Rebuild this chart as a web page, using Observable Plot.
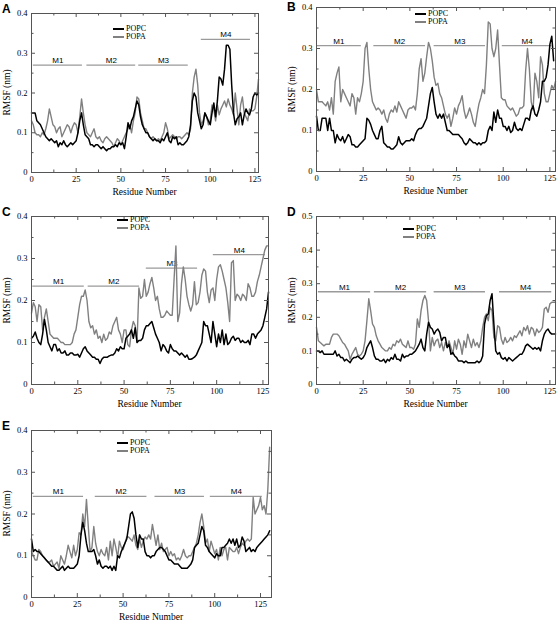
<!DOCTYPE html>
<html><head><meta charset="utf-8">
<script src="https://cdn.jsdelivr.net/npm/d3@7"></script>
<script src="https://cdn.jsdelivr.net/npm/@observablehq/plot@0.6"></script>
<style>
body{margin:0;background:#fff;}
#root{position:relative;width:558px;height:624px;overflow:hidden;font-family:"Liberation Serif","Times New Roman",serif;color:#000;}
#root > *{position:absolute;}
.letter{font-family:"Liberation Sans",Arial,sans-serif;font-weight:bold;font-size:12px;line-height:12px;}
.ytitle{font-family:"Liberation Serif","Times New Roman",serif;font-weight:normal;width:100px;text-align:center;font-size:9.5px;line-height:11px;transform:rotate(-90deg);white-space:nowrap;}
.xtitle{font-family:"Liberation Serif","Times New Roman",serif;font-weight:normal;width:200px;text-align:center;font-size:9.5px;line-height:11px;white-space:nowrap;}
.legline{height:1.6px;width:11px;}
.legtext{font-family:"Liberation Serif","Times New Roman",serif;font-size:8px;line-height:8px;white-space:nowrap;}
</style></head><body><div id="root"></div><script>
// ---------- data ----------
const seriesNames = ["POPC", "POPA"];
const segLabels = ["M1", "M2", "M3", "M4"];
const xTicks = [0, 25, 50, 75, 100, 125];
const yTicks04 = [0, 0.1, 0.2, 0.3, 0.4];
const yTicks05 = [0, 0.1, 0.2, 0.3, 0.4, 0.5];

const aPOPC = [0.15,0.15,0.15,0.13,0.125,0.12,0.11,0.10,0.09,0.085,
0.08,0.085,0.08,0.075,0.08,0.065,0.075,0.07,0.08,0.07,
0.065,0.07,0.075,0.07,0.075,0.08,0.10,0.13,0.15,0.12,
0.095,0.09,0.085,0.07,0.07,0.065,0.07,0.07,0.065,0.06,
0.065,0.06,0.055,0.06,0.06,0.065,0.065,0.07,0.065,0.075,
0.07,0.075,0.06,0.09,0.125,0.11,0.13,0.14,0.16,0.18,
0.17,0.14,0.12,0.11,0.10,0.10,0.09,0.085,0.08,0.085,
0.08,0.08,0.075,0.085,0.08,0.09,0.10,0.08,0.075,0.09,
0.085,0.09,0.07,0.075,0.07,0.07,0.075,0.08,0.09,0.12,
0.18,0.20,0.19,0.15,0.13,0.11,0.12,0.15,0.14,0.13,
0.12,0.15,0.175,0.14,0.18,0.24,0.235,0.22,0.26,0.32,
0.32,0.31,0.22,0.15,0.12,0.135,0.14,0.15,0.12,0.145,
0.16,0.15,0.145,0.16,0.19,0.20,0.195,0.20];
const aPOPA = [0.13,0.12,0.10,0.095,0.095,0.09,0.10,0.095,0.11,0.13,
0.16,0.14,0.12,0.115,0.10,0.11,0.115,0.09,0.10,0.11,
0.12,0.115,0.10,0.115,0.125,0.12,0.10,0.14,0.185,0.15,
0.12,0.10,0.095,0.09,0.10,0.11,0.09,0.085,0.09,0.08,
0.075,0.085,0.09,0.085,0.08,0.075,0.065,0.075,0.085,0.08,
0.07,0.08,0.09,0.10,0.11,0.12,0.10,0.13,0.15,0.19,
0.185,0.15,0.13,0.11,0.11,0.10,0.09,0.085,0.09,0.085,
0.08,0.085,0.08,0.09,0.10,0.125,0.11,0.085,0.09,0.095,
0.09,0.085,0.09,0.09,0.085,0.09,0.095,0.10,0.095,0.11,
0.20,0.24,0.26,0.22,0.15,0.12,0.13,0.15,0.14,0.12,
0.13,0.17,0.16,0.13,0.17,0.145,0.16,0.17,0.18,0.165,
0.185,0.17,0.16,0.145,0.20,0.16,0.12,0.17,0.19,0.15,
0.14,0.13,0.16,0.155,0.155,0.16,0.19,0.235];

const bPOPC = [0.135,0.10,0.10,0.13,0.13,0.13,0.10,0.13,0.10,0.10,
0.07,0.09,0.08,0.075,0.085,0.07,0.08,0.09,0.085,0.065,
0.065,0.06,0.06,0.065,0.07,0.075,0.08,0.13,0.125,0.115,
0.10,0.09,0.08,0.08,0.10,0.11,0.07,0.065,0.06,0.06,
0.055,0.055,0.06,0.065,0.085,0.07,0.065,0.07,0.075,0.075,
0.075,0.08,0.075,0.09,0.10,0.105,0.105,0.11,0.12,0.13,
0.16,0.19,0.205,0.17,0.14,0.13,0.14,0.13,0.14,0.12,
0.10,0.10,0.095,0.09,0.09,0.09,0.09,0.085,0.08,0.07,
0.065,0.07,0.08,0.075,0.07,0.07,0.065,0.07,0.065,0.07,
0.07,0.075,0.10,0.11,0.10,0.145,0.12,0.15,0.13,0.13,
0.11,0.11,0.10,0.11,0.095,0.10,0.12,0.105,0.10,0.105,
0.10,0.115,0.13,0.13,0.125,0.15,0.16,0.14,0.135,0.15,
0.17,0.22,0.22,0.23,0.26,0.31,0.33,0.27];
const bPOPA = [0.20,0.17,0.17,0.17,0.165,0.16,0.17,0.15,0.18,0.14,
0.22,0.24,0.255,0.17,0.20,0.19,0.18,0.17,0.16,0.19,
0.18,0.14,0.18,0.17,0.19,0.22,0.30,0.315,0.25,0.20,
0.17,0.16,0.15,0.155,0.15,0.14,0.15,0.13,0.12,0.14,
0.15,0.145,0.16,0.145,0.17,0.16,0.15,0.14,0.13,0.15,
0.155,0.155,0.16,0.15,0.19,0.25,0.275,0.22,0.24,0.28,
0.315,0.30,0.27,0.23,0.21,0.215,0.19,0.18,0.16,0.14,
0.13,0.14,0.11,0.13,0.155,0.14,0.16,0.17,0.185,0.15,
0.13,0.14,0.155,0.14,0.12,0.11,0.14,0.165,0.18,0.20,
0.19,0.26,0.365,0.36,0.30,0.28,0.30,0.345,0.26,0.18,
0.175,0.175,0.16,0.155,0.15,0.155,0.145,0.135,0.14,0.155,
0.155,0.16,0.245,0.30,0.25,0.17,0.15,0.24,0.22,0.18,
0.28,0.26,0.19,0.17,0.17,0.19,0.21,0.20,0.22];

const cPOPC = [0.11,0.115,0.125,0.11,0.10,0.095,0.12,0.155,0.13,0.10,
0.09,0.08,0.095,0.095,0.08,0.085,0.075,0.075,0.08,0.07,
0.07,0.075,0.075,0.07,0.07,0.072,0.065,0.075,0.085,0.09,
0.08,0.075,0.07,0.065,0.065,0.06,0.06,0.05,0.06,0.065,
0.065,0.065,0.068,0.07,0.07,0.075,0.085,0.08,0.09,0.085,
0.085,0.11,0.115,0.12,0.13,0.11,0.135,0.10,0.105,0.105,
0.11,0.13,0.14,0.14,0.145,0.15,0.135,0.12,0.11,0.10,
0.08,0.095,0.09,0.08,0.075,0.095,0.085,0.08,0.08,0.075,
0.07,0.075,0.07,0.065,0.07,0.06,0.06,0.062,0.065,0.07,
0.08,0.09,0.10,0.15,0.14,0.14,0.12,0.10,0.15,0.12,
0.09,0.12,0.10,0.13,0.095,0.12,0.095,0.10,0.11,0.115,
0.105,0.11,0.11,0.10,0.105,0.10,0.10,0.105,0.095,0.12,
0.12,0.11,0.12,0.125,0.13,0.14,0.16,0.18,0.22];
const cPOPA = [0.17,0.195,0.185,0.15,0.19,0.185,0.13,0.16,0.18,0.15,
0.12,0.115,0.11,0.11,0.11,0.105,0.10,0.10,0.095,0.095,
0.095,0.095,0.10,0.12,0.13,0.16,0.19,0.21,0.21,0.225,
0.20,0.15,0.135,0.14,0.12,0.13,0.11,0.115,0.10,0.12,
0.105,0.11,0.125,0.12,0.14,0.15,0.16,0.13,0.12,0.10,
0.13,0.13,0.095,0.09,0.13,0.15,0.14,0.10,0.23,0.205,
0.21,0.25,0.21,0.22,0.24,0.255,0.23,0.20,0.21,0.18,
0.16,0.16,0.165,0.175,0.17,0.165,0.165,0.25,0.33,0.15,
0.17,0.24,0.28,0.25,0.21,0.19,0.175,0.19,0.245,0.19,
0.195,0.22,0.26,0.275,0.27,0.22,0.195,0.225,0.23,0.20,
0.25,0.28,0.285,0.27,0.25,0.23,0.195,0.15,0.29,0.295,
0.20,0.215,0.21,0.20,0.215,0.21,0.20,0.24,0.23,0.21,
0.21,0.22,0.245,0.26,0.28,0.30,0.32,0.33,0.33];

const dPOPC = [0.10,0.10,0.095,0.10,0.09,0.09,0.09,0.09,0.09,0.09,
0.10,0.085,0.09,0.08,0.08,0.07,0.075,0.07,0.065,0.075,
0.08,0.08,0.085,0.08,0.075,0.08,0.09,0.11,0.12,0.13,
0.11,0.085,0.075,0.075,0.07,0.07,0.075,0.065,0.075,0.07,
0.08,0.075,0.09,0.075,0.075,0.07,0.09,0.08,0.085,0.085,
0.09,0.09,0.095,0.10,0.11,0.12,0.135,0.11,0.10,0.15,
0.185,0.17,0.165,0.15,0.16,0.165,0.155,0.13,0.14,0.14,
0.11,0.12,0.09,0.095,0.085,0.08,0.07,0.07,0.07,0.065,
0.07,0.065,0.065,0.065,0.065,0.065,0.07,0.065,0.07,0.085,
0.18,0.205,0.21,0.25,0.27,0.18,0.10,0.09,0.095,0.08,
0.075,0.08,0.07,0.08,0.075,0.07,0.075,0.08,0.085,0.09,
0.09,0.10,0.115,0.12,0.115,0.11,0.105,0.11,0.105,0.11,
0.10,0.13,0.15,0.16,0.165,0.155,0.15,0.15,0.15];
const dPOPA = [0.17,0.13,0.125,0.12,0.115,0.12,0.12,0.12,0.14,0.15,
0.15,0.15,0.145,0.135,0.125,0.12,0.11,0.10,0.075,0.09,
0.10,0.11,0.09,0.085,0.09,0.10,0.13,0.19,0.255,0.22,
0.18,0.17,0.145,0.13,0.12,0.11,0.105,0.10,0.10,0.11,
0.105,0.12,0.115,0.13,0.125,0.135,0.12,0.115,0.11,0.13,
0.11,0.11,0.105,0.12,0.195,0.17,0.22,0.25,0.265,0.25,
0.19,0.10,0.14,0.115,0.13,0.135,0.11,0.125,0.10,0.125,
0.11,0.13,0.11,0.09,0.13,0.105,0.135,0.12,0.09,0.13,
0.11,0.15,0.13,0.11,0.135,0.115,0.125,0.11,0.13,0.17,
0.20,0.21,0.19,0.23,0.22,0.14,0.13,0.175,0.17,0.135,
0.12,0.14,0.125,0.13,0.14,0.13,0.145,0.14,0.15,0.16,
0.145,0.17,0.16,0.175,0.15,0.17,0.165,0.145,0.165,0.155,
0.16,0.17,0.225,0.23,0.215,0.24,0.245,0.245,0.245];

const ePOPC = [0.14,0.11,0.115,0.11,0.11,0.105,0.10,0.095,0.09,0.085,
0.08,0.075,0.075,0.07,0.065,0.065,0.07,0.075,0.065,0.07,
0.075,0.07,0.07,0.07,0.075,0.08,0.10,0.15,0.18,0.16,
0.13,0.11,0.11,0.11,0.115,0.10,0.08,0.09,0.075,0.07,
0.075,0.075,0.07,0.075,0.065,0.075,0.065,0.10,0.095,0.11,
0.12,0.13,0.14,0.17,0.20,0.205,0.19,0.15,0.12,0.15,
0.14,0.14,0.11,0.10,0.10,0.095,0.10,0.10,0.11,0.115,
0.12,0.12,0.115,0.11,0.10,0.09,0.09,0.085,0.08,0.08,
0.08,0.075,0.07,0.07,0.07,0.07,0.075,0.08,0.09,0.12,
0.125,0.13,0.15,0.17,0.16,0.125,0.12,0.11,0.105,0.10,
0.095,0.105,0.10,0.10,0.12,0.12,0.125,0.13,0.14,0.13,
0.14,0.125,0.14,0.12,0.125,0.145,0.135,0.11,0.115,0.12,
0.11,0.115,0.11,0.12,0.125,0.13,0.135,0.14,0.145,0.15,0.16];
const ePOPA = [0.11,0.10,0.09,0.09,0.115,0.11,0.10,0.095,0.09,0.085,
0.085,0.09,0.075,0.08,0.085,0.07,0.10,0.09,0.08,0.10,
0.125,0.11,0.095,0.125,0.10,0.115,0.155,0.15,0.20,0.17,
0.235,0.17,0.11,0.12,0.17,0.13,0.11,0.10,0.115,0.105,
0.10,0.12,0.09,0.135,0.10,0.14,0.12,0.095,0.135,0.12,
0.115,0.13,0.145,0.145,0.14,0.135,0.15,0.125,0.115,0.14,
0.12,0.135,0.145,0.14,0.15,0.14,0.175,0.15,0.125,0.15,
0.115,0.13,0.11,0.115,0.12,0.10,0.11,0.10,0.105,0.09,
0.095,0.09,0.10,0.115,0.10,0.095,0.10,0.10,0.11,0.12,
0.13,0.15,0.18,0.20,0.17,0.13,0.14,0.11,0.135,0.12,
0.105,0.115,0.09,0.12,0.10,0.115,0.12,0.09,0.12,0.115,
0.11,0.11,0.12,0.105,0.12,0.13,0.125,0.135,0.14,0.135,
0.14,0.24,0.20,0.21,0.22,0.24,0.21,0.22,0.20,0.26,0.36];

// transmembrane segment bars (start residue, end residue, RMSF level)
const aSegStart = [1, 31, 60, 95],   aSegEnd = [28.5, 58.3, 87.7, 122.5], aSegLevel = [0.27, 0.27, 0.27, 0.335];
const bSegStart = [0, 30.7, 63, 99.5], bSegEnd = [24, 58.4, 90.5, 126],   bSegLevel = [0.307, 0.307, 0.307, 0.307];
const cSegStart = [0.7, 30.6, 62, 98.2], cSegEnd = [28.5, 58.4, 89.7, 126.3], cSegLevel = [0.234, 0.234, 0.277, 0.309];
const dSegStart = [1, 31, 63, 98],   dSegEnd = [29, 59, 90.5, 126],     dSegLevel = [0.276, 0.276, 0.276, 0.276];
const eSegStart = [1, 34.8, 67.4, 97.6], eSegEnd = [28.4, 63, 94.4, 126], eSegLevel = [0.242, 0.242, 0.242, 0.242];

// ---------- layout ----------
const panels = [
  {id:"A", popc:aPOPC, popa:aPOPA, s:aSegStart, e:aSegEnd, lv:aSegLevel, xMax:127, yTicks:yTicks04, frame:[31,13,258,172], legend:[113,29,37]},
  {id:"B", popc:bPOPC, popa:bPOPA, s:bSegStart, e:bSegEnd, lv:bSegLevel, xMax:128, yTicks:yTicks04, frame:[316,7,555,171], legend:[415,14,22]},
  {id:"C", popc:cPOPC, popa:cPOPA, s:cSegStart, e:cSegEnd, lv:cSegLevel, xMax:128, yTicks:yTicks04, frame:[31,216,268,384], legend:[117,220,228]},
  {id:"D", popc:dPOPC, popa:dPOPA, s:dSegStart, e:dSegEnd, lv:dSegLevel, xMax:128, yTicks:yTicks05, frame:[316,216,555,384], legend:[403,229,237]},
  {id:"E", popc:ePOPC, popa:ePOPA, s:eSegStart, e:eSegEnd, lv:eSegLevel, xMax:131, yTicks:yTicks04, frame:[31,430,271,597], legend:[117,443,451]}
];
const colors = {POPC:"#000000", POPA:"#808080"};
const root = document.getElementById("root");
function add(tag, cls, text, x, y, extra){
  const el = document.createElement(tag);
  if (cls) el.className = cls;
  if (text != null) el.textContent = text;
  el.style.left = x + "px"; el.style.top = y + "px";
  if (extra) Object.assign(el.style, extra);
  root.appendChild(el);
  return el;
}

for (const p of panels) {
  const [l, t, r, b] = p.frame;
  const fw = r - l, fh = b - t;
  const ml = 34, mr = 6, mt = 8, mb = 22;
  const popc = p.popc.map((v, i) => ({x: i, y: v}));
  const popa = p.popa.map((v, i) => ({x: i, y: v}));
  const segs = segLabels.map((s, i) => ({label: s, x1: p.s[i], x2: p.e[i], y: p.lv[i]}));
  const yMax = p.yTicks[p.yTicks.length - 1];
  const yMinor = p.yTicks.slice(0, -1).map(v => +(v + 0.05).toFixed(2));
  const xMinor = xTicks.map(v => v + 12.5).filter(v => v < p.xMax);
  const fc = "#555";
  const chart = Plot.plot({
    width: fw + ml + mr, height: fh + mt + mb,
    marginLeft: ml, marginRight: mr, marginTop: mt, marginBottom: mb,
    x: {domain: [0, p.xMax]},
    y: {domain: [0, yMax]},
    style: {fontFamily: "'Liberation Serif', 'Times New Roman', serif", fontSize: "8.5px", background: "transparent", color: "#000", overflow: "visible"},
    marks: [
      Plot.ruleY(segs, {y: "y", x1: "x1", x2: "x2", stroke: "#9a9a9a", strokeWidth: 1.3}),
      Plot.text(segs, {x: d => (d.x1 + d.x2) / 2, y: "y", text: "label", dy: -2, lineAnchor: "bottom", fontFamily: "'Liberation Sans', Arial, sans-serif", fontSize: 8}),
      Plot.line(popa, {x: "x", y: "y", stroke: colors.POPA, strokeWidth: 1.4}),
      Plot.line(popc, {x: "x", y: "y", stroke: colors.POPC, strokeWidth: 1.5}),
      Plot.frame({stroke: fc}),
      Plot.tickX(xTicks, {x: d => d, insetTop: fh - 4, stroke: fc}),
      Plot.tickX(xTicks, {x: d => d, insetBottom: fh - 4, stroke: fc}),
      Plot.tickX(xMinor, {x: d => d, insetTop: fh - 2.5, stroke: fc}),
      Plot.tickX(xMinor, {x: d => d, insetBottom: fh - 2.5, stroke: fc}),
      Plot.tickY(p.yTicks, {y: d => d, insetRight: fw - 4, stroke: fc}),
      Plot.tickY(p.yTicks, {y: d => d, insetLeft: fw - 4, stroke: fc}),
      Plot.tickY(yMinor, {y: d => d, insetRight: fw - 2.5, stroke: fc}),
      Plot.tickY(yMinor, {y: d => d, insetLeft: fw - 2.5, stroke: fc}),
      Plot.axisX({ticks: xTicks, tickSize: 0, tickPadding: 3, label: null}),
      Plot.axisY({ticks: p.yTicks, tickSize: 0, tickPadding: 4, label: null, tickFormat: d => d === 0 ? "0" : d.toFixed(1)})
    ]
  });
  chart.style.left = (l - ml) + "px";
  chart.style.top = (t - mt) + "px";
  root.appendChild(chart);

  add("div", "letter", p.id, l - 29, Math.max(t - 10, 1));
  add("div", "ytitle", "RMSF (nm)", l - 24 - 50, (t + b) / 2 - 5.5);
  add("div", "xtitle", "Residue Number", (l + r) / 2 - 100, b + 15);
  const [lx, y1, y2] = p.legend;
  [[seriesNames[0], y1], [seriesNames[1], y2]].forEach(([name, yy]) => {
    add("div", "legline", null, lx, yy - 0.8, {background: colors[name]});
    add("div", "legtext", name, lx + 13, yy - 4);
  });
}
</script></body></html>
